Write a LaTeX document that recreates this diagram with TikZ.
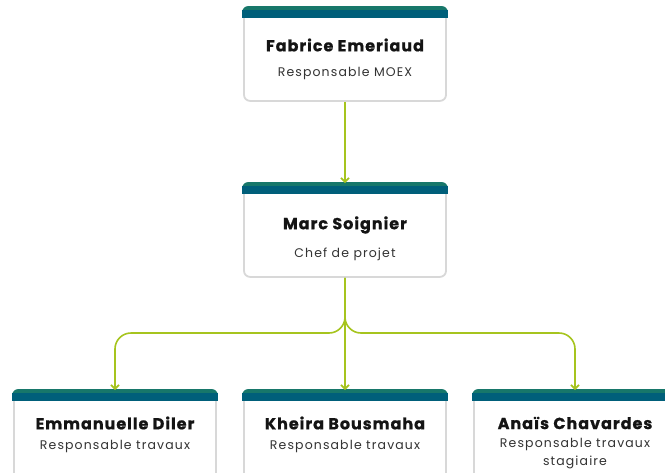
\documentclass[tikz,border=0pt]{standalone}
\usepackage{fontspec}
\setmainfont{Poppins}
\newfontfamily\namefont[LetterSpace=6,BoldFeatures={FakeBold=0.8}]{Poppins}
\newfontfamily\rolefont[LetterSpace=9]{Poppins}
\usetikzlibrary{arrows.meta}
\definecolor{headteal}{HTML}{005F7A}
\definecolor{headgreen}{HTML}{17776A}
\definecolor{linkgreen}{HTML}{A6C41E}
\definecolor{cardline}{HTML}{D8D8D8}
\definecolor{subgrey}{HTML}{333333}
\tikzset{
  card/.style={draw=cardline, line width=1.8pt, fill=white, rounded corners=6pt,
    minimum width=202pt, minimum height=93pt, inner sep=0pt, anchor=north},
  persname/.style={font=\namefont\fontsize{16}{18}\selectfont\bfseries, text=black!92, inner sep=0pt},
  persrole/.style={font=\rolefont\fontsize{12.5}{18}\selectfont, text=subgrey, inner sep=0pt, align=center},
  conn/.style={draw=linkgreen, line width=1.6pt, -{Straight Barb[length=4pt,width=8pt]}},
}
% coloured top band of a card (two tones, rounded top corners)
\newcommand\cardhead[1]{%
  \fill[headgreen] ([shift={(-0.9,6)}]#1.north west) [rounded corners=6pt]
    -- ([shift={(-0.9,-0.9)}]#1.north west) -- ([shift={(0.9,-0.9)}]#1.north east)
    [sharp corners] -- ([shift={(0.9,6)}]#1.north east) -- cycle;
  \fill[headteal] ([shift={(-0.9,3)}]#1.north west) rectangle ([shift={(0.9,11)}]#1.north east);
}
\begin{document}
\begin{tikzpicture}[x=1pt,y=-1pt]
\useasboundingbox (0,0) rectangle (665,472);

% cards
\node[card] (fab)  at (345,7)   {};
\node[card] (marc) at (345,183) {};
\node[card] (emm)  at (115,390) {};
\node[card] (khe)  at (345,390) {};
\node[card] (ana)  at (575,390) {};
\cardhead{fab}
\cardhead{marc}
\cardhead{emm}
\cardhead{khe}
\cardhead{ana}

% texts
\node[persname] (fabN)  at (345,45)  {Fabrice Emeriaud};
\node[persrole] (fabR)  at (345,73)  {Responsable MOEX};
\node[persname] (marcN) at (345,225) {Marc Soignier};
\node[persrole] (marcR) at (345,254) {Chef de projet};
\node[persname] (emmN)  at (115,423) {Emmanuelle Diler};
\node[persrole] (emmR)  at (115,446) {Responsable travaux};
\node[persname] (kheN)  at (345,423) {Kheira Bousmaha};
\node[persrole] (kheR)  at (345,446) {Responsable travaux};
\node[persname] (anaN)  at (575,423) {Anaïs Chavardes};
\node[persrole,anchor=north] (anaR) at (575,438) {Responsable travaux\\stagiaire};

% connectors
\coordinate (bus) at (345,333);
\draw[conn] (fab.south) -- (marc.north);
\draw[conn] (marc.south) -- (khe.north);
\draw[conn, rounded corners=16pt] (marc.south) -- (bus) -- (bus -| emm.north) -- (emm.north);
\draw[conn, rounded corners=16pt] (marc.south) -- (bus) -- (bus -| ana.north) -- (ana.north);
\end{tikzpicture}
\end{document}
